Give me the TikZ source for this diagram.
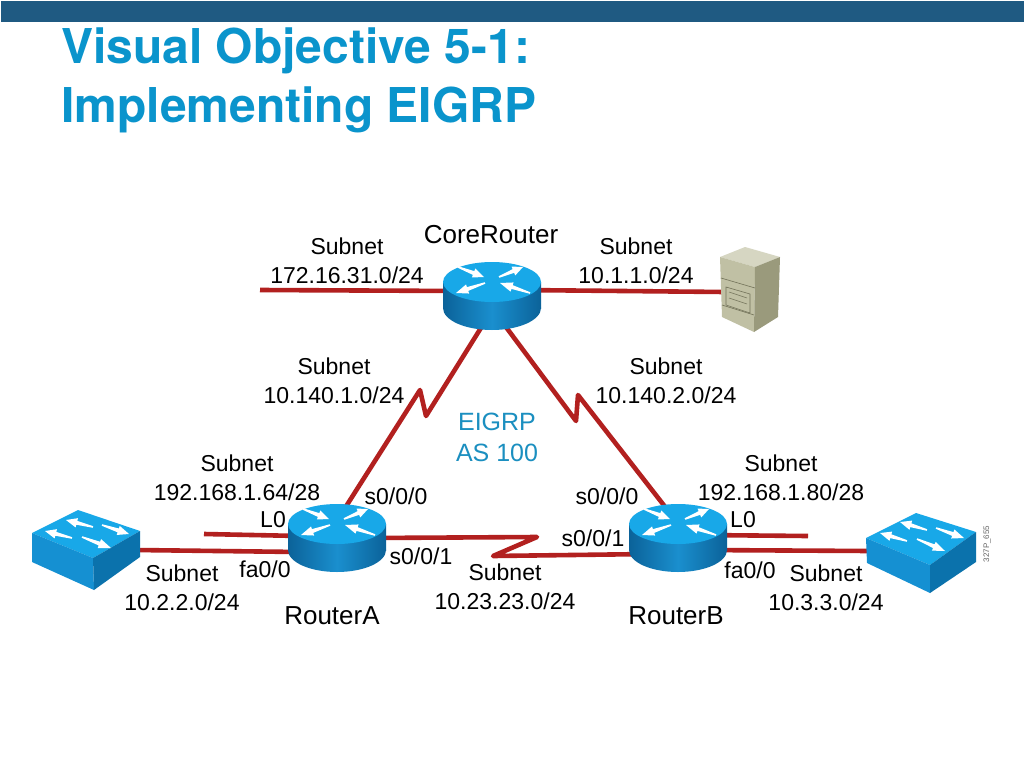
\documentclass[tikz,border=0pt]{standalone}
\usepackage{fontspec}
\setmainfont{Liberation Sans}
\newfontfamily\titlefont{TeX Gyre Heros}
\usetikzlibrary{calc}
\definecolor{barblue}{HTML}{1F5A82}
\definecolor{titleblue}{HTML}{0A94CC}
\definecolor{linkred}{HTML}{B2201F}
\definecolor{eigrpblue}{HTML}{1B8FC0}
\definecolor{topblue}{HTML}{18A8E8}
\definecolor{sidedark}{HTML}{0B6299}
\definecolor{sidemid}{HTML}{1A8FCE}
\definecolor{swfront}{HTML}{1590D2}
\definecolor{swside}{HTML}{0B72AC}
\definecolor{srvtop}{HTML}{D6D6C2}
\definecolor{srvfront}{HTML}{C0C0A4}
\definecolor{srvside}{HTML}{9A9A7C}
\definecolor{srvline}{HTML}{73735A}
\newcommand{\flowarrow}[2]{%
  \fill[white] ($#1!.8pt!90:#2$) -- ($#1!.6!#2!2pt!90:#2$) -- ($#1!.6!#2!4.8pt!90:#2$) -- #2
    -- ($#1!.6!#2!4.8pt!-90:#2$) -- ($#1!.6!#2!2pt!-90:#2$) -- ($#1!.8pt!-90:#2$) -- cycle;}
\tikzset{
  link/.style={draw=linkred,line width=4.6pt,line join=round},
  lab/.style={inner sep=0pt,align=center,font=\fontsize{23}{29}\selectfont,text=black},
  biglab/.style={lab,font=\fontsize{26}{29}\selectfont},
  routerpic/.pic={
    \coordinate (-c) at (0,0);
    \shade[left color=sidedark,right color=sidedark,middle color=sidemid] (-49,-14) rectangle (49,12);
    \shade[left color=sidedark,right color=sidedark,middle color=sidemid] (0,12) ellipse [x radius=49,y radius=22];
    \fill[topblue] (0,-14) ellipse [x radius=49,y radius=20];
    \flowarrow{(-34,-29)}{(-8,-19)}
    \flowarrow{(38,-3)}{(8,-13)}
    \flowarrow{(7,-19)}{(31,-29)}
    \flowarrow{(-7,-13)}{(-36,-3)}
  },
}
\begin{document}
\begin{tikzpicture}[x=1pt,y=-1pt]
\useasboundingbox (0,0) rectangle (1024,768);
\fill[white] (0,0) rectangle (1024,768);
\fill[barblue] (1,1) rectangle (1024,22);
\node[anchor=base west,inner sep=0pt,text=titleblue,font=\titlefont\bfseries\fontsize{48}{59}\selectfont,align=left] (title) at (61,122) {Visual Objective 5-1:\\Implementing EIGRP};

% connector ends
\coordinate (lanCoreL) at (260,290);
\coordinate (coreL) at (460,291);
\coordinate (coreR) at (520,290);
\coordinate (srvPort) at (725,292);
\coordinate (coreSW) at (484,323);
\coordinate (zA1) at (426,416);
\coordinate (zA2) at (420,390);
\coordinate (aNE) at (345,508);
\coordinate (coreSE) at (503,323);
\coordinate (zB1) at (576,421);
\coordinate (zB2) at (578,395);
\coordinate (bNW) at (666,508);
\coordinate (aE) at (370,538);
\coordinate (zC1) at (537,537);
\coordinate (zC2) at (493,556);
\coordinate (bW) at (650,554);
\coordinate (loA) at (204,534);
\coordinate (aLo) at (300,536);
\coordinate (swAport) at (135,550);
\coordinate (aFa) at (300,552);
\coordinate (loB) at (808,536);
\coordinate (bLo) at (700,535);
\coordinate (swBport) at (870,551);
\coordinate (bFa) at (700,550);

\draw[link] (lanCoreL) -- (coreL);
\draw[link] (coreR) -- (srvPort);
\draw[link] (coreSW) -- (zA1) -- (zA2) -- (aNE);
\draw[link] (coreSE) -- (zB1) -- (zB2) -- (bNW);
\draw[link] (aE) -- (zC1) -- (zC2) -- (bW);
\draw[link] (loA) -- (aLo);
\draw[link] (swAport) -- (aFa);
\draw[link] (loB) -- (bLo);
\draw[link] (swBport) -- (bFa);

\pic (core) at (492,296) {routerpic};
\pic (ra) at (337,538) {routerpic};
\pic (rb) at (678,538) {routerpic};

% left switch
\fill[topblue] (32,533) -- (78,510) -- (140,531) -- (93,558) -- cycle;
\fill[swfront] (32,533) -- (93,558) -- (94,590) -- (32,562) -- cycle;
\fill[swside] (93,558) -- (140,531) -- (140,557) -- (94,590) -- cycle;
\flowarrow{(72,538)}{(45,531)}
\flowarrow{(93,527)}{(66,520)}
\flowarrow{(102,525)}{(129,534)}
\flowarrow{(82,537)}{(111,548)}

% right switch
\fill[topblue] (866,538) -- (916,513) -- (976,532) -- (930,565) -- cycle;
\fill[swfront] (866,538) -- (930,565) -- (930,593) -- (867,563) -- cycle;
\fill[swside] (930,565) -- (976,532) -- (976,562) -- (930,593) -- cycle;
\flowarrow{(907,541)}{(880,533)}
\flowarrow{(927,530)}{(900,522)}
\flowarrow{(936,528)}{(964,538)}
\flowarrow{(917,539)}{(945,551)}

% server
\fill[srvtop] (720,257) -- (745,247) -- (780,257) -- (755,267) -- cycle;
\fill[srvfront] (720,257) -- (755,267) -- (754,332) -- (722,317) -- cycle;
\fill[srvside] (755,267) -- (780,257) -- (778,317) -- (754,332) -- cycle;
\draw[srvline,line width=.6pt] (721,278) -- (755,288);
\draw[srvline,line width=.6pt] (722,305) -- (754,315);
\draw[srvline,line width=.6pt] (726,287) -- (750,294) -- (750,313) -- (726,305) -- cycle;
\draw[srvline,line width=.5pt] (729,292) -- (747,298);
\draw[srvline,line width=.5pt] (729,298) -- (747,304);

% labels
\node[lab] (l1) at (347,261) {Subnet\\172.16.31.0/24};
\node[biglab] (l2) at (491,235) {CoreRouter};
\node[lab] (l3) at (636,261) {Subnet\\10.1.1.0/24};
\node[lab] (l4) at (334,381) {Subnet\\10.140.1.0/24};
\node[lab] (l5) at (666,381) {Subnet\\10.140.2.0/24};
\node[lab,text=eigrpblue,font=\fontsize{25}{31}\selectfont] (l6) at (497,437) {EIGRP\\AS 100};
\node[lab] (l7) at (237,478) {Subnet\\192.168.1.64/28};
\node[lab] (l8) at (273,520) {L0};
\node[lab] (l9) at (396,496) {s0/0/0};
\node[lab] (l10) at (265,569) {fa0/0};
\node[lab] (l11) at (421,556) {s0/0/1};
\node[lab] (l12) at (182,588) {Subnet\\10.2.2.0/24};
\node[biglab] (l13) at (332,616) {RouterA};
\node[lab] (l14) at (505,587) {Subnet\\10.23.23.0/24};
\node[lab] (l15) at (607,496) {s0/0/0};
\node[lab] (l16) at (593,538) {s0/0/1};
\node[lab] (l17) at (743,520) {L0};
\node[lab] (l18) at (750,570) {fa0/0};
\node[lab] (l19) at (781,478) {Subnet\\192.168.1.80/28};
\node[lab] (l20) at (826,588) {Subnet\\10.3.3.0/24};
\node[biglab] (l21) at (676,616) {RouterB};
\node[lab,rotate=90,text=black!60,font=\fontsize{8}{9}\selectfont] (l22) at (987,544) {327P\_655};
\end{tikzpicture}
\end{document}
